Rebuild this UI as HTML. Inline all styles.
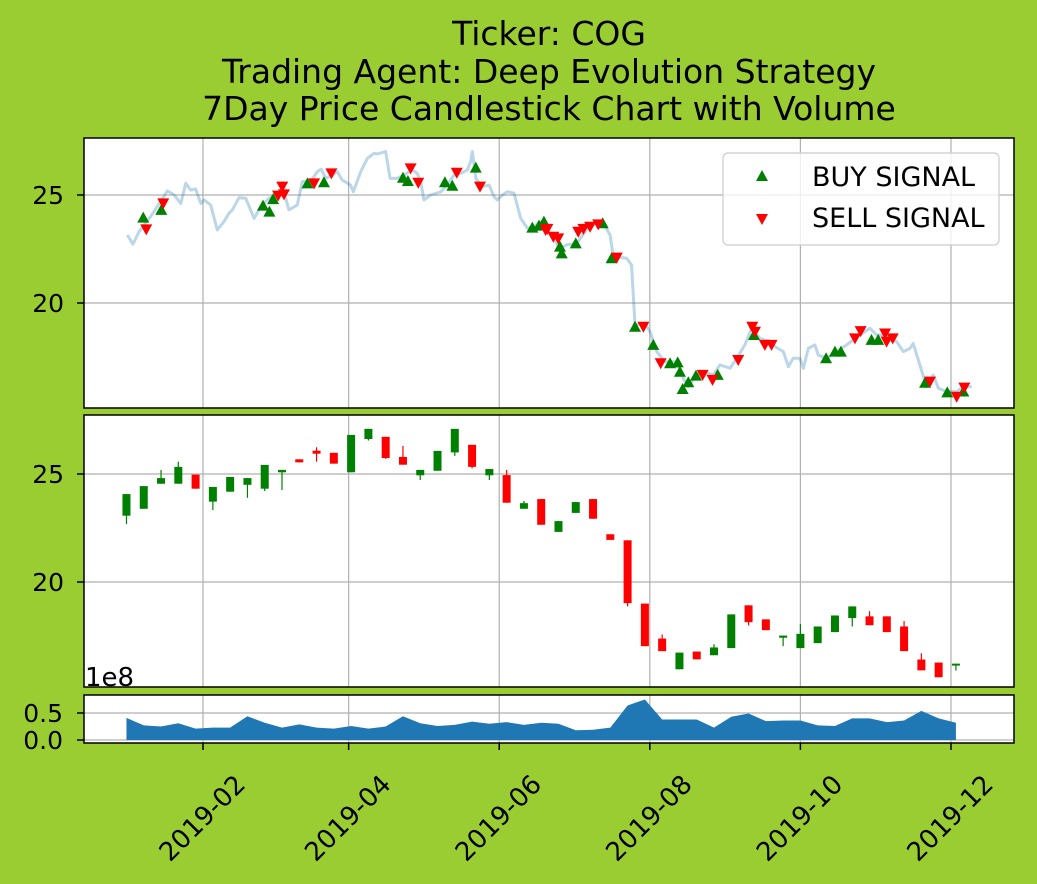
<!DOCTYPE html>
<html><head><meta charset="utf-8"><style>
html,body{margin:0;padding:0;background:#9acd32;}
svg{display:block;font-family:"DejaVu Sans","Liberation Sans",sans-serif;}
</style></head><body>
<svg id="chart" width="1037" height="884" viewBox="0 0 1037 884" xmlns="http://www.w3.org/2000/svg">
<rect width="1037" height="884" fill="#9acd32"/>
<g font-size="33" text-anchor="middle" fill="#000">
<text x="549" y="45">Ticker: COG</text>
<text x="549" y="83">Trading Agent: Deep Evolution Strategy</text>
<text x="549" y="120">7Day Price Candlestick Chart with Volume</text>
</g>
<rect x="84" y="138" width="930" height="270" fill="#fff"/>
<rect x="84" y="415" width="930" height="272" fill="#fff"/>
<rect x="84" y="695" width="930" height="48" fill="#fff"/>
<g id="grid"></g>
<g id="marks"></g>
<rect x="84" y="138" width="930" height="270" fill="none" stroke="#000" stroke-width="1.5"/>
<rect x="84" y="415" width="930" height="272" fill="none" stroke="#000" stroke-width="1.5"/>
<rect x="84" y="695" width="930" height="48" fill="none" stroke="#000" stroke-width="1.5"/>
<g id="ticks" font-size="25" fill="#000"></g>
<text x="85" y="686" font-size="26">1e8</text>
<g>
<rect x="723" y="153" width="276" height="92" rx="5" fill="#fff" fill-opacity="0.8" stroke="#ccc" stroke-width="1.2"/>
<polygon points="762,170 768,181 756,181" fill="#008000"/>
<text x="812" y="186" font-size="27">BUY SIGNAL</text>
<polygon points="756,214 768,214 762,225" fill="#ff0000"/>
<text x="812" y="227" font-size="27">SELL SIGNAL</text>
</g>
</svg>
<script>
// daily close line (day of 2019, price)
const lineDays=[0.4,2.6,5.1,9.8,16.6,19.3,22.0,24.0,26.0,28.0,30.1,31.4,34.1,36.8,39.5,41.5,42.9,45.6,48.3,51.7,54.4,57.7,61.1,63.8,65.8,69.2,71.2,74.6,77.3,78.9,80.7,83.4,85.4,87.4,90.8,91.9,94.9,97.6,100.3,101.6,105.0,106.8,109.7,112.4,115.8,117.8,119.2,120.5,123.2,127.3,130.0,132.7,135.4,138.1,139.4,140.1,141.5,144.2,146.9,148.9,150.2,152.3,154.3,157.0,159.7,162.4,165.1,167.5,171.5,175.6,178.3,182.4,187.8,193.2,195.9,197.2,202.6,204.6,205.3,206.0,210.0,212.1,214.8,218.1,222.9,225.6,227.6,231.0,233.7,237.7,240.4,244.5,247.2,250.5,253.2,256.6,260.7,262.7,266.1,268.1,270.1,272.8,274.2,276.2,278.9,280.2,283.6,287.7,291.7,297.1,301.2,303.9,307.9,312.0,314.7,317.4,318.7,321.4,324.1,326.8,328.9,332.2,336.3,339.0,342.4];
const linePrices=[23.15,22.72,23.30,24.00,25.19,25.00,24.61,25.54,25.23,25.28,24.61,24.77,24.54,23.38,23.77,24.15,24.31,24.88,24.85,23.92,24.46,24.85,25.00,25.15,24.31,24.54,25.62,25.62,26.08,26.20,25.77,25.93,26.08,25.69,25.46,25.15,26.08,26.70,26.93,26.90,27.01,25.77,25.77,25.93,26.16,26.00,25.62,24.77,25.00,25.15,25.46,25.93,26.00,26.16,26.54,27.01,25.77,25.39,25.46,24.92,24.77,25.00,25.15,25.08,23.92,23.46,23.53,23.77,23.23,22.53,22.69,22.76,23.61,23.69,23.15,22.15,22.07,21.76,20.37,18.98,19.06,18.67,17.75,17.28,17.28,16.51,16.13,16.67,16.82,16.67,17.13,16.98,17.44,18.06,18.83,18.36,18.21,17.98,17.75,17.05,17.44,17.44,16.98,17.90,18.06,17.59,17.44,17.75,18.06,18.52,18.83,18.52,18.52,18.21,17.75,17.90,18.13,17.13,16.13,16.67,16.05,15.90,15.90,16.13,16.13];
const buyDays=[6.8,14.1,55.3,57.9,59.4,73.3,80.0,112.0,114.0,129.0,132.0,141.5,164.4,167.1,169.1,175.6,176.3,182.0,192.9,196.5,206.0,213.4,220.2,223.3,224.2,225.3,227.6,230.7,239.5,254.2,283.4,287.0,289.4,301.8,304.5,323.5,332.5,339.0];
const buyPrices=[23.95,24.31,24.51,24.23,24.81,25.54,25.59,25.80,25.65,25.59,25.43,26.27,23.49,23.58,23.77,22.61,22.30,22.76,23.69,22.07,18.90,18.06,17.21,17.25,16.82,16.02,16.33,16.64,16.67,18.52,17.44,17.75,17.75,18.29,18.29,16.31,15.86,15.90];
const sellDays=[8.0,14.9,63.1,61.4,63.8,76.0,83.0,115.1,118.2,133.8,143.2,169.8,170.5,172.9,174.9,183.0,185.1,187.8,191.1,198.6,209.4,216.4,233.4,237.4,247.8,253.5,254.6,258.6,261.3,295.1,297.4,307.3,307.9,310.4,325.5,336.3,339.4];
const sellPrices=[23.41,24.61,25.39,24.97,25.03,25.54,26.00,26.23,25.57,26.03,25.39,23.38,23.43,23.07,22.99,23.30,23.43,23.53,23.64,22.10,18.90,17.21,16.67,16.44,17.36,18.90,18.67,18.06,18.06,18.36,18.70,18.59,18.21,18.36,16.36,15.66,16.08];
// weekly candles
const candleOpen=[23.07,23.39,24.55,24.55,24.97,23.72,24.18,24.50,24.32,25.08,25.68,26.08,25.98,25.08,26.62,26.72,25.79,24.94,25.15,26.00,26.35,24.94,24.95,23.39,23.84,22.32,23.20,23.84,22.21,21.93,19.00,17.38,15.96,16.78,16.61,16.94,18.92,18.27,17.42,16.94,17.17,17.68,18.33,18.41,18.41,17.94,16.41,16.27,16.13];
const candleClose=[24.07,24.44,24.81,25.33,24.32,24.40,24.86,24.81,25.42,25.19,25.54,25.94,25.48,26.81,27.09,25.74,25.43,25.19,26.07,27.09,25.33,25.23,23.67,23.65,22.65,22.82,23.70,22.93,21.95,19.02,17.03,16.80,16.73,16.42,16.97,18.50,18.14,17.77,17.52,17.60,17.94,18.45,18.87,18.00,17.68,16.80,15.91,15.59,16.22];
const candleHigh=[24.07,24.44,25.19,25.57,24.97,24.40,24.86,24.81,25.42,25.19,25.68,26.24,25.98,26.81,27.09,26.72,26.30,25.19,26.07,27.09,26.35,25.23,25.19,23.75,23.84,22.82,23.70,23.84,22.21,21.93,19.00,17.57,16.73,16.78,17.12,18.50,18.92,18.27,17.52,18.05,17.94,18.45,18.87,18.65,18.41,18.19,16.70,16.27,16.22];
const candleLow=[22.68,23.39,24.55,24.55,24.32,23.33,24.18,23.90,24.21,24.26,25.54,25.57,25.48,25.08,26.55,25.70,25.43,24.72,25.15,25.84,25.26,24.72,23.67,23.39,22.65,22.32,23.20,22.93,21.95,18.87,17.03,16.80,15.96,16.42,16.61,16.94,17.99,17.77,17.03,16.94,17.17,17.68,17.94,18.00,17.68,16.80,15.91,15.59,15.90];
const volume=[0.41,0.27,0.25,0.31,0.21,0.23,0.23,0.44,0.32,0.23,0.29,0.23,0.21,0.26,0.21,0.25,0.44,0.31,0.26,0.28,0.34,0.30,0.33,0.28,0.32,0.30,0.18,0.19,0.23,0.64,0.75,0.38,0.38,0.38,0.23,0.43,0.49,0.35,0.36,0.36,0.27,0.26,0.40,0.40,0.33,0.36,0.54,0.40,0.32];
const xTickLabels=["2019-02","2019-04","2019-06","2019-08","2019-10","2019-12"];
const xTickDays=[31,90,151,212,273,334];
const priceTicks=[20,25];
const volTicks=[0.0,0.5];

const NS="http://www.w3.org/2000/svg";
const X=d=>203+(d-31)*2.4686;
const Y1=p=>195-(p-25)*21.6;
const Y2=p=>474-(p-25)*21.6;
const YV=v=>740-v*54;
function mk(tag,attrs,parent){const e=document.createElementNS(NS,tag);for(const k in attrs)e.setAttribute(k,attrs[k]);parent.appendChild(e);return e;}
const grid=document.getElementById('grid'),marks=document.getElementById('marks'),ticks=document.getElementById('ticks');
xTickDays.forEach((d,i)=>{
 [[138,408],[415,687],[695,743]].forEach(([a,b])=>{
  const l=mk('line',{x1:X(d),x2:X(d),y1:a,y2:b,stroke:'#b0b0b0','stroke-width':1.2},grid);
  
  
 });
 const t=mk('line',{x1:X(d),x2:X(d),y1:743,y2:750,stroke:'#000','stroke-width':1.5},ticks);
 
 
 const cx=X(d)-1,cy=818;
 const lab=mk('text',{x:cx,y:cy+9,'text-anchor':'middle','font-size':26,transform:`rotate(-45 ${cx} ${cy})`},ticks);
 lab.textContent=xTickLabels[i];
 
 
});
priceTicks.forEach(p=>{
 [Y1,Y2].forEach(f=>{
  const l=mk('line',{x1:84,x2:1014,y1:f(p),y2:f(p),stroke:'#b0b0b0','stroke-width':1.2},grid);
  
  
  const t=mk('line',{x1:77,x2:84,y1:f(p),y2:f(p),stroke:'#000','stroke-width':1.5},ticks);
  
  
  const lab=mk('text',{x:64,y:f(p)+9,'text-anchor':'end'},ticks);
  lab.textContent=String(p);
  
  
 });
});
volTicks.forEach(v=>{
 const l=mk('line',{x1:84,x2:1014,y1:YV(v),y2:YV(v),stroke:'#b0b0b0','stroke-width':1.2},grid);
 
 
 const t=mk('line',{x1:77,x2:84,y1:YV(v),y2:YV(v),stroke:'#000','stroke-width':1.5},ticks);
 
 
 const lab=mk('text',{x:63,y:YV(v)+9,'text-anchor':'end'},ticks);
 lab.textContent=v.toFixed(1);
 
 
});
const pl=mk('polyline',{points:lineDays.map((d,i)=>X(d)+','+Y1(linePrices[i])).join(' '),fill:'none',stroke:'#1f77b4','stroke-opacity':0.3,'stroke-width':3,'stroke-linejoin':'round'},marks);


buyDays.forEach((d,i)=>{
 const x=X(d),y=Y1(buyPrices[i]);
 const m=mk('polygon',{points:`${x},${y-6} ${x+6},${y+5} ${x-6},${y+5}`,fill:'#008000'},marks);
 
 
});
sellDays.forEach((d,i)=>{
 const x=X(d),y=Y1(sellPrices[i]);
 const m=mk('polygon',{points:`${x-6},${y-5} ${x+6},${y-5} ${x},${y+6}`,fill:'#ff0000'},marks);
 
 
});
candleOpen.forEach((o,i)=>{
 const c=candleClose[i],x=X(i*7),col=c>=o?'#008000':'#ff0000';
 const w=mk('line',{x1:x,x2:x,y1:Y2(candleHigh[i]),y2:Y2(candleLow[i]),stroke:col,'stroke-width':1.2},marks);
 
 
 const top=Y2(Math.max(o,c)),bot=Y2(Math.min(o,c));
 const b=mk('rect',{x:x-4,y:top,width:8,height:Math.max(bot-top,1.5),fill:col},marks);
 
 
});
const vp='M'+X(0)+','+YV(0)+' '+volume.map((v,i)=>'L'+X(i*7)+','+YV(v)).join(' ')+' L'+X((volume.length-1)*7)+','+YV(0)+'Z';
const va=mk('path',{d:vp,fill:'#1f77b4'},marks);


</script>
</body></html>
